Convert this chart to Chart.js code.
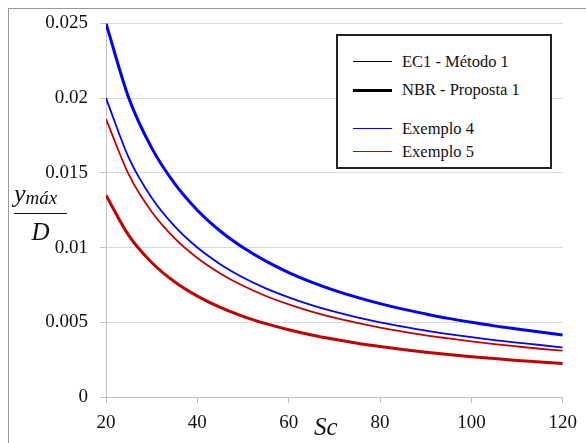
<!DOCTYPE html>
<html>
<head>
<meta charset="utf-8">
<script src="https://cdn.jsdelivr.net/npm/chart.js@4"></script>
<style>
  html, body { margin: 0; padding: 0; background: #fff; overflow: hidden; }
  #wrap { position: relative; width: 586px; height: 443px; }
  #frame { position: absolute; left: 8px; top: 8px; width: 600px; height: 460px; border: 1px solid #999; }
  .serif { font-family: "Liberation Serif", Tinos, "Times New Roman", Times, "Nimbus Roman", "DejaVu Serif", "Noto Serif", FreeSerif, serif; }
  #legend { position: absolute; left: 336px; top: 34px; width: 212px; height: 131px; border: 2px solid #222; background: #fff;
    font-size: 16.5px; color: #111; }
  .row { position: absolute; left: 0; height: 20px; }
  .row span.ln { position: absolute; left: 15px; width: 39px; top: 9px; }
  .row span.tx { position: absolute; left: 64px; top: 0; white-space: nowrap; line-height: 20px; }
  .ytitle { position: absolute; left: 14px; top: 180px; font-style: italic; color: #111; }
  .xtitle { position: absolute; left: 314px; top: 413px; font-style: italic; font-size: 25px; color: #111; }
</style>
</head>
<body>
<div id="wrap">
  <div id="frame"></div>
  <canvas id="chart"></canvas>
  <div id="legend" class="serif"></div>
  <div class="ytitle serif">
    <div style="font-size:26px; line-height:28px; white-space:nowrap;">y<span style="font-size:19px; position:relative; top:2px;">máx</span></div>
    <div style="width:53px; border-top:1.5px solid #111; margin-top:3px;"></div>
    <div style="font-size:25px; line-height:26px; text-align:center; width:53px; margin-top:5px;">D</div>
  </div>
  <div class="xtitle serif">Sc</div>
</div>
<script>
const scValues = [20, 25, 30, 35, 40, 45, 50, 55, 60, 65, 70, 75, 80, 85, 90, 95, 100, 105, 110, 115, 120];

// thick lines = NBR - Proposta 1, thin lines = EC1 - Método 1
const ex4Nbr = [0.025, 0.02, 0.01667, 0.01429, 0.0125, 0.01111, 0.01, 0.00909, 0.00833, 0.00769, 0.00714,
  0.00667, 0.00625, 0.00588, 0.00556, 0.00526, 0.005, 0.00476, 0.00455, 0.00435, 0.00415];
const ex4Ec1 = [0.02, 0.016, 0.01333, 0.01143, 0.01, 0.00889, 0.008, 0.00727, 0.00667, 0.00615, 0.00571,
  0.00533, 0.005, 0.00471, 0.00444, 0.00421, 0.004, 0.00381, 0.00364, 0.00348, 0.00332];
const ex5Ec1 = [0.0186, 0.01488, 0.0124, 0.01063, 0.0093, 0.00827, 0.00744, 0.00676, 0.0062, 0.00572, 0.00531,
  0.00496, 0.00465, 0.00438, 0.00413, 0.00392, 0.00372, 0.00354, 0.00338, 0.00323, 0.0031];
const ex5Nbr = [0.0135, 0.0108, 0.009, 0.00771, 0.00675, 0.006, 0.0054, 0.00491, 0.0045, 0.00415, 0.00386,
  0.0036, 0.00338, 0.00318, 0.003, 0.00284, 0.0027, 0.00257, 0.00245, 0.00235, 0.00224];

const xTicks = [20, 40, 60, 80, 100, 120];
const yTicks = [0, 0.005, 0.01, 0.015, 0.02, 0.025];

const legendItems = [
  { text: 'EC1 - Método 1', color: '#000', width: 1.5, top: 16 },
  { text: 'NBR - Proposta 1', color: '#000', width: 3, top: 44 },
  { text: 'Exemplo 4', color: '#0000ff', width: 1.5, top: 83 },
  { text: 'Exemplo 5', color: '#c00000', width: 1.5, top: 106 }
];

const BLUE = '#0000ff';
const RED = '#c00000';

function series(values, color, width) {
  return {
    data: values.map((v, i) => ({ x: scValues[i], y: v })),
    borderColor: color,
    borderWidth: width,
    pointRadius: 0,
    fill: false,
    cubicInterpolationMode: 'monotone'
  };
}

const legendEl = document.getElementById('legend');
legendItems.forEach(item => {
  const row = document.createElement('div');
  row.className = 'row';
  row.style.top = item.top + 'px';
  row.style.width = '100%';
  row.innerHTML = `<span class="ln" style="border-top:${item.width}px solid ${item.color}"></span><span class="tx">${item.text}</span>`;
  legendEl.appendChild(row);
});

const tickFont = {
  family: "'Liberation Serif', Tinos, 'Times New Roman', Times, 'Nimbus Roman', 'DejaVu Serif', 'Noto Serif', FreeSerif, serif",
  size: 19
};

new Chart(document.getElementById('chart'), {
  type: 'line',
  data: {
    datasets: [
      series(ex4Nbr, BLUE, 3),
      series(ex4Ec1, BLUE, 1.8),
      series(ex5Ec1, RED, 1.8),
      series(ex5Nbr, RED, 3)
    ]
  },
  options: {
    responsive: true,
    maintainAspectRatio: false,
    animation: false,
    layout: { padding: { left: 0, top: 23, right: 18, bottom: 0 } },
    plugins: { legend: { display: false }, tooltip: { enabled: false } },
    scales: {
      x: {
        type: 'linear',
        min: 20,
        max: 120,
        afterFit: s => { s.height = 46; },
        afterBuildTicks: s => { s.ticks = xTicks.map(v => ({ value: v })); },
        grid: { drawOnChartArea: false, drawTicks: true, tickLength: 6, color: '#bfbfbf' },
        border: { display: true, color: '#bfbfbf' },
        ticks: { color: '#111', font: tickFont, padding: 9, maxRotation: 0 }
      },
      y: {
        min: 0,
        max: 0.025,
        afterFit: s => { s.width = 106; },
        afterBuildTicks: s => { s.ticks = yTicks.map(v => ({ value: v })); },
        grid: { color: '#d9d9d9', tickLength: 6, tickColor: '#bfbfbf' },
        border: { display: true, color: '#bfbfbf' },
        ticks: { color: '#111', font: tickFont, padding: 12, callback: v => String(+v.toFixed(3)) }
      }
    }
  }
});
</script>
</body>
</html>
